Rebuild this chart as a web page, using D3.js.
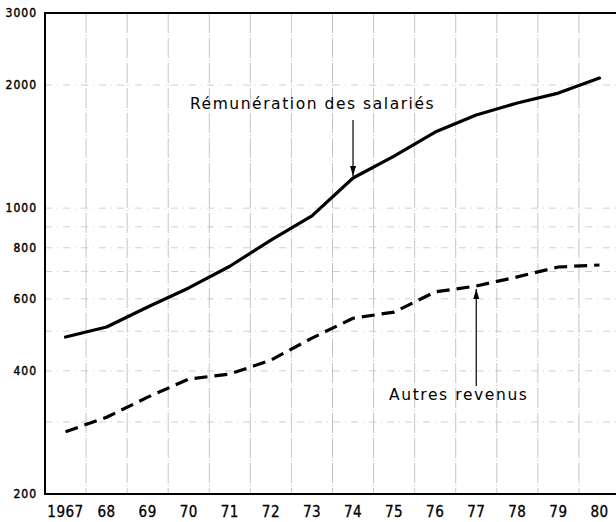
<!DOCTYPE html>
<html>
<head>
<meta charset="utf-8">
<script src="https://cdn.jsdelivr.net/npm/d3@7"></script>
<style>
  body { margin: 0; background: #fff; }
  svg { display: block; }
</style>
</head>
<body>
<div id="chart"></div>
<script>
// chart data
var years = [1967, 1968, 1969, 1970, 1971, 1972, 1973, 1974, 1975, 1976, 1977, 1978, 1979, 1980]
var yearLabels = ["1967", "68", "69", "70", "71", "72", "73", "74", "75", "76", "77", "78", "79", "80"]
var salaries = [484, 512, 573, 638, 721, 835, 957, 1185, 1340, 1535, 1690, 1807, 1911, 2080]
var autres = [284, 308, 345, 382, 393, 425, 481, 538, 557, 624, 645, 679, 718, 726]
var yTicks = [200, 400, 600, 800, 1000, 2000, 3000]
var yGrid = [300, 400, 500, 600, 700, 800, 900, 1000, 2000]

var width = 616,
    height = 522
var margin = {top: 13, left: 45, right: -4, bottom: 28}

var svg = d3.select("#chart")
  .append("svg")
    .attr("width", width)
    .attr("height", height)

// years as bands, grid lines on the band edges
var x = d3.scaleBand()
  .domain(years)
  .range([margin.left, width - margin.right])

var y = d3.scaleLog()
  .domain([200, 3000])
  .range([height - margin.bottom, margin.top])

// vertical grid
svg.append("g")
  .selectAll("line")
  .data(years.slice(1))
  .enter()
  .append("line")
    .attr("x1", d => x(d))
    .attr("x2", d => x(d))
    .attr("y1", y(3000))
    .attr("y2", y(200))
    .attr("stroke", "#aaa")
    .attr("stroke-width", 0.7)
    .attr("stroke-dasharray", "20,2,1,2")

// horizontal grid
svg.append("g")
  .selectAll("line")
  .data(yGrid)
  .enter()
  .append("line")
    .attr("x1", margin.left)
    .attr("x2", width)
    .attr("y1", d => y(d))
    .attr("y2", d => y(d))
    .attr("stroke", "#bbb")
    .attr("stroke-width", 0.7)
    .attr("stroke-dasharray", "7,5,1,5")

// frame
svg.append("path")
  .attr("d", "M" + width + "," + y(3000) + "H" + margin.left + "V" + y(200) + "H" + width)
  .attr("fill", "none")
  .attr("stroke", "#000")
  .attr("stroke-width", 2)

// y tick labels
svg.append("g")
  .selectAll("text")
  .data(yTicks)
  .enter()
  .append("text")
    .attr("x", 37)
    .attr("y", d => y(d) + 4)
    .attr("text-anchor", "end")
    .attr("font-family", "DejaVu Sans Condensed")
    .attr("font-size", 12)
    .attr("letter-spacing", 1)
    .attr("stroke", "#000")
    .attr("stroke-width", 0.4)
    .text(d => d)

// x labels
svg.append("g")
  .selectAll("text")
  .data(years)
  .enter()
  .append("text")
    .attr("x", d => x(d) + x.bandwidth() / 2)
    .attr("y", 517)
    .attr("text-anchor", "middle")
    .attr("font-family", "DejaVu Sans Condensed")
    .attr("font-size", 15)
    .attr("letter-spacing", 0.5)
    .attr("stroke", "#000")
    .attr("stroke-width", 0.3)
    .text((d, i) => yearLabels[i])

var line = d3.line()
  .x((d, i) => x(years[i]) + x.bandwidth() / 2)
  .y(d => y(d))

svg.append("path")
  .datum(salaries)
  .attr("d", line)
  .attr("fill", "none")
  .attr("stroke", "#000")
  .attr("stroke-width", 3.2)
  .attr("stroke-linejoin", "round")
  .attr("stroke-linecap", "round")

svg.append("path")
  .datum(autres)
  .attr("d", line)
  .attr("fill", "none")
  .attr("stroke", "#000")
  .attr("stroke-width", 3.2)
  .attr("stroke-linejoin", "round")
  .attr("stroke-dasharray", "13,7")

// labels with arrows
var xs = x(1974) + x.bandwidth() / 2
var xa = x(1977) + x.bandwidth() / 2

svg.append("text")
  .attr("x", 190)
  .attr("y", 109)
  .attr("font-family", "DejaVu Sans")
  .attr("font-size", 15.5)
  .attr("letter-spacing", 1.55)
  .text("Rémunération des salariés")

svg.append("text")
  .attr("x", 389)
  .attr("y", 400)
  .attr("font-family", "DejaVu Sans")
  .attr("font-size", 15.5)
  .attr("letter-spacing", 1.6)
  .text("Autres revenus")

var arrow = function (x0, y0, y1) {
  var dir = y1 > y0 ? 1 : -1
  svg.append("line")
    .attr("x1", x0).attr("x2", x0)
    .attr("y1", y0).attr("y2", y1)
    .attr("stroke", "#000")
    .attr("stroke-width", 1.2)
  svg.append("path")
    .attr("d", "M" + (x0 - 3) + "," + (y1 - dir * 10) + "L" + x0 + "," + y1 + "L" + (x0 + 3) + "," + (y1 - dir * 10) + "Z")
    .attr("fill", "#000")
}
arrow(xs, 120, y(salaries[7]) - 2)
arrow(xa, 386, y(autres[10]) + 3)
</script>
</body>
</html>
